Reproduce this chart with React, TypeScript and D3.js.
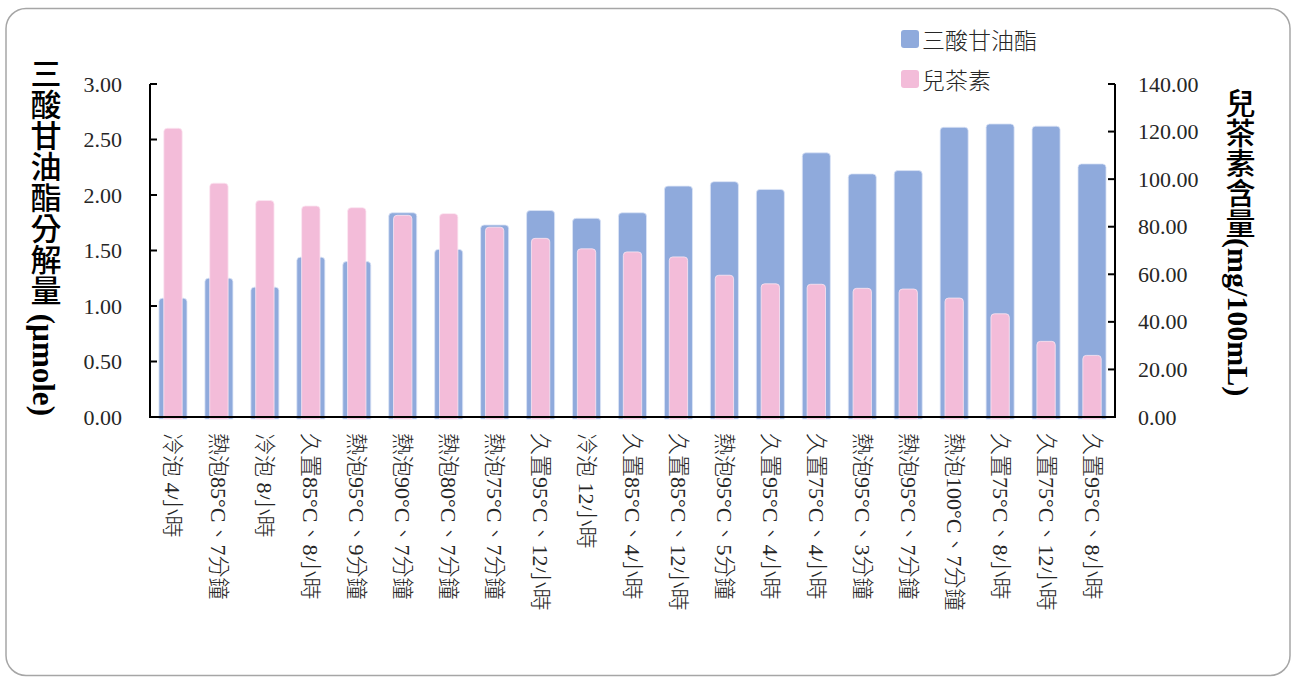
import React from "react";
import * as d3 from "d3";

const categories = [
  "冷泡 4小時",
  "熱泡85°C、7分鐘",
  "冷泡 8小時",
  "久置85°C、8小時",
  "熱泡95°C、9分鐘",
  "熱泡90°C、7分鐘",
  "熱泡80°C、7分鐘",
  "熱泡75°C、7分鐘",
  "久置95°C、12小時",
  "冷泡 12小時",
  "久置85°C、4小時",
  "久置85°C、12小時",
  "熱泡95°C、5分鐘",
  "久置95°C、4小時",
  "久置75°C、4小時",
  "熱泡95°C、3分鐘",
  "熱泡95°C、7分鐘",
  "熱泡100°C、7分鐘",
  "久置75°C、8小時",
  "久置75°C、12小時",
  "久置95°C、8小時",
];

// 三酸甘油酯分解量 (µmole), left axis
const triglyceride = [
  1.07, 1.25, 1.17, 1.44, 1.4, 1.84, 1.51, 1.73, 1.86, 1.79, 1.84, 2.08, 2.12,
  2.05, 2.38, 2.19, 2.22, 2.61, 2.64, 2.62, 2.28,
];

// 兒茶素含量 (mg/100mL), right axis
const catechin = [
  121.4, 98.3, 91.0, 88.7, 88.0, 84.8, 85.5, 79.8, 75.1, 70.7, 69.4, 67.3, 59.6,
  56.0, 55.8, 54.1, 53.8, 50.0, 43.4, 31.8, 25.9,
];

const leftTicks = [0, 0.5, 1, 1.5, 2, 2.5, 3];
const rightTicks = [0, 20, 40, 60, 80, 100, 120, 140];

const seriesNames = ["三酸甘油酯", "兒茶素"];
const BLUE = "#8faadc";
const PINK = "#f3bcd9";

const W = 1292;
const H = 677;
const left = 150;
const right = 1115;
const top = 84;
const bottom = 417;

const serif = "'Liberation Serif', 'Noto Sans CJK TC', serif";
const cjk = "'Noto Sans CJK TC', 'Liberation Serif', sans-serif";

function topRounded(x0: number, y0: number, w: number, base: number, r: number) {
  const rr = Math.min(r, w / 2, Math.max(0, base - y0));
  const p = d3.path();
  p.moveTo(x0, base);
  p.lineTo(x0, y0 + rr);
  p.quadraticCurveTo(x0, y0, x0 + rr, y0);
  p.lineTo(x0 + w - rr, y0);
  p.quadraticCurveTo(x0 + w, y0, x0 + w, y0 + rr);
  p.lineTo(x0 + w, base);
  p.closePath();
  return p.toString();
}

const vertical = { writingMode: "vertical-rl", textOrientation: "mixed" } as any;

export default function App() {
  const x = d3
    .scaleBand<string>()
    .domain(categories)
    .range([left, right])
    .paddingInner(0.39)
    .paddingOuter(0.195);
  const yL = d3.scaleLinear().domain([0, 3]).range([bottom, top]);
  const yR = d3.scaleLinear().domain([0, 140]).range([bottom, top]);
  const bw = x.bandwidth();
  const pw = bw * 0.655;
  const fmt = d3.format(".2f");

  return (
    <div style={{ position: "absolute", left: 0, top: 0 }}>
      <svg width={W} height={H} style={{ display: "block", background: "#fff" }}>
        <rect
          x={6}
          y={8.5}
          width={1284}
          height={667}
          rx={20}
          ry={20}
          fill="#fff"
          stroke="#a6a6a6"
          strokeWidth={1.5}
        />

        {/* blue bars */}
        {categories.map((c, i) => (
          <path
            key={"b" + i}
            d={topRounded(x(c)!, yL(triglyceride[i]), bw, bottom + 2, 3.5)}
            fill={BLUE}
            stroke="#dce5f6"
            strokeWidth={0.8}
          />
        ))}
        {/* pink bars */}
        {categories.map((c, i) => (
          <path
            key={"p" + i}
            d={topRounded(x(c)! + (bw - pw) / 2, yR(catechin[i]), pw, bottom + 2, 3.5)}
            fill={PINK}
            stroke="#fbe6f1"
            strokeWidth={0.8}
          />
        ))}

        {/* axes */}
        <line x1={left} x2={left} y1={top} y2={bottom} stroke="#000" strokeWidth={2} />
        <line x1={right} x2={right} y1={top} y2={bottom} stroke="#000" strokeWidth={2} />
        <line x1={left - 1} x2={right + 1} y1={bottom} y2={bottom} stroke="#000" strokeWidth={2} />

        {leftTicks.map((t) => (
          <g key={"lt" + t}>
            <line x1={left} x2={left + 7} y1={yL(t)} y2={yL(t)} stroke="#000" strokeWidth={2} />
            <text
              x={122}
              y={yL(t)}
              textAnchor="end"
              dominantBaseline="central"
              fontFamily={serif}
              fontSize={22}
              fill="#262626"
            >
              {fmt(t)}
            </text>
          </g>
        ))}
        {rightTicks.map((t) => (
          <g key={"rt" + t}>
            <line x1={right - 7} x2={right} y1={yR(t)} y2={yR(t)} stroke="#000" strokeWidth={2} />
            <text
              x={1138}
              y={yR(t)}
              textAnchor="start"
              dominantBaseline="central"
              fontFamily={serif}
              fontSize={22}
              fill="#262626"
            >
              {fmt(t)}
            </text>
          </g>
        ))}

        {/* category labels */}
        {categories.map((c) => {
          const cx = x(c)! + bw / 2;
          return (
            <text
              key={"c" + c}
              transform={`translate(${cx},433) rotate(90)`}
              textAnchor="start"
              dominantBaseline="central"
              fontFamily={serif}
              fontWeight={300}
              fontSize={22}
              fill="#262626"
            >
              {c}
            </text>
          );
        })}

        {/* axis titles */}
        <text x={43} y={58} style={vertical} fontFamily={serif} fontSize={31} fill="#000">
          <tspan fontWeight={500}>三酸甘油酯分解量</tspan>
          <tspan fontWeight="bold"> (µmole)</tspan>
        </text>
        <text x={1238} y={88} style={vertical} fontFamily={serif} fontSize={30} fill="#000">
          <tspan fontWeight={500}>兒茶素含量</tspan>
          <tspan fontWeight="bold">(mg/100mL)</tspan>
        </text>

        {/* legend */}
        {seriesNames.map((n, i) => (
          <g key={"lg" + n} transform={`translate(901,${30 + i * 40})`}>
            <rect width={18} height={18} rx={3} fill={i === 0 ? BLUE : PINK} />
            <text
              x={21}
              y={9}
              dominantBaseline="central"
              fontFamily={cjk}
              fontWeight={300}
              fontSize={23}
              fill="#262626"
            >
              {n}
            </text>
          </g>
        ))}
      </svg>
    </div>
  );
}
